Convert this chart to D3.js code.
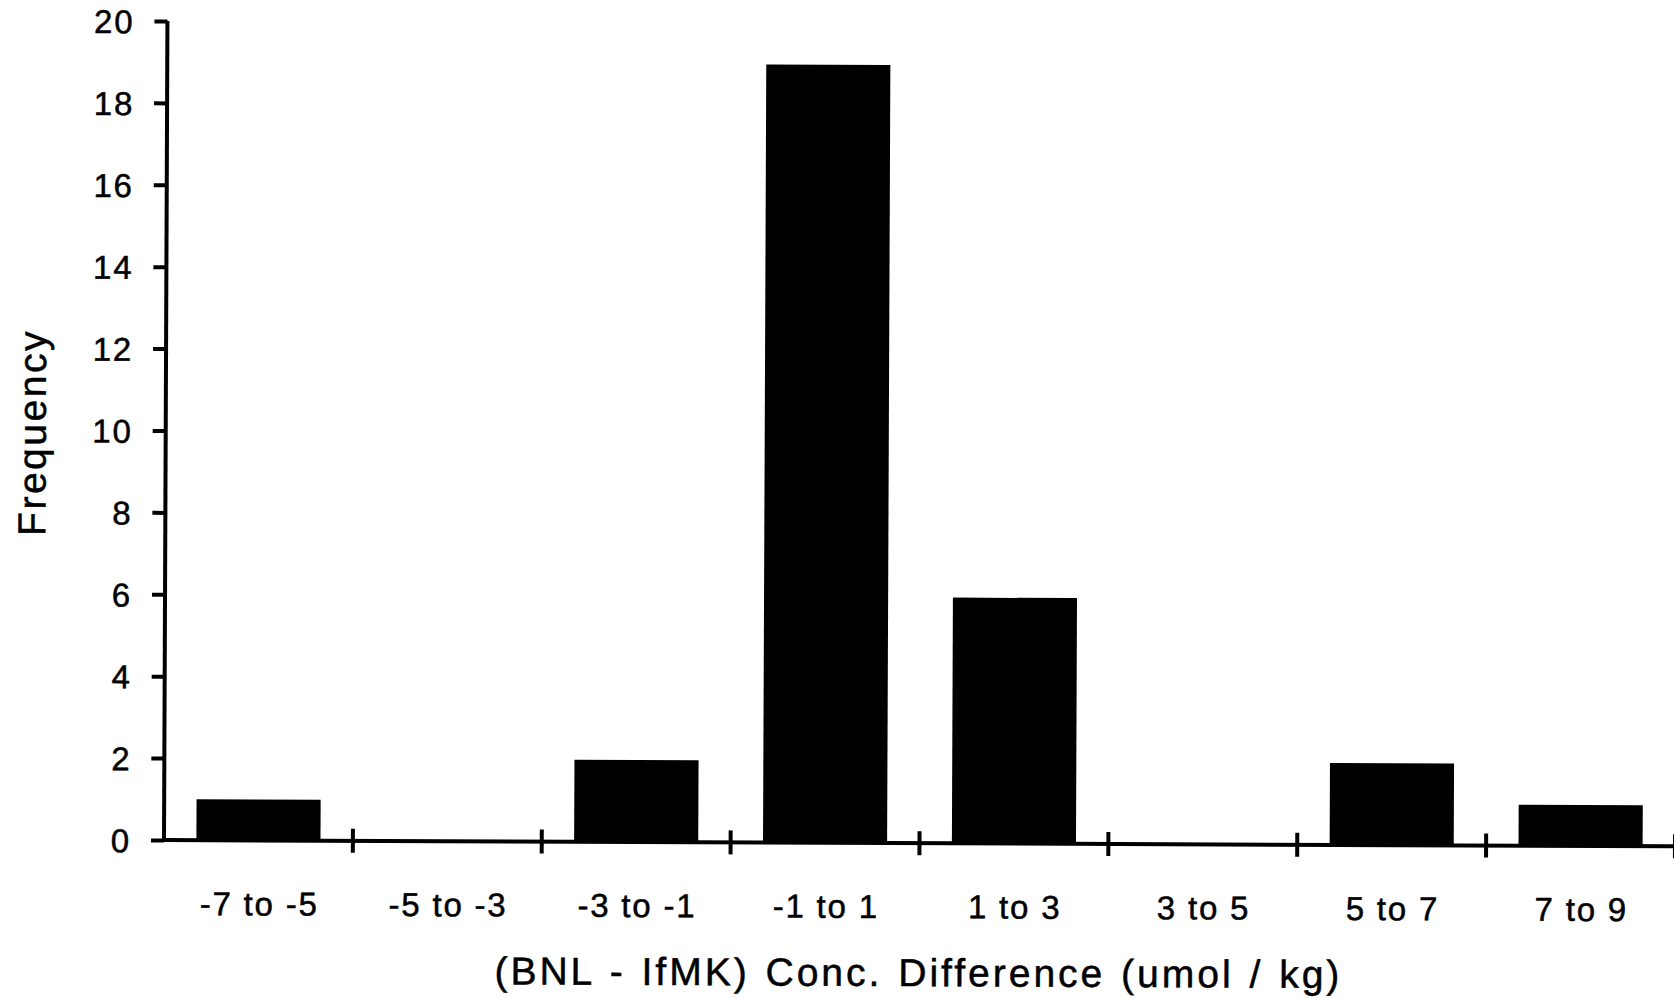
<!DOCTYPE html>
<html>
<head>
<meta charset="utf-8">
<script src="https://cdn.jsdelivr.net/npm/d3@7"></script>
<style>
  body { margin: 0; background: #fff; }
  svg { display: block; }
  text { font-family: "Liberation Sans", Arial, Helvetica, sans-serif; fill: #000; stroke: #000; stroke-width: 0.5px; }
  .tick-label { font-size: 33px; letter-spacing: 1.8px; }
  .label { font-size: 39px; letter-spacing: 3px; word-spacing: 2px; }
</style>
</head>
<body>
<svg width="1674" height="998"></svg>
<script>
// histogram of concentration differences
const categories = ['-7 to -5', '-5 to -3', '-3 to -1', '-1 to 1', '1 to 3', '3 to 5', '5 to 7', '7 to 9'];
const frequency = [1, 0, 2, 19, 6, 0, 2, 1];
const yTicks = [0, 2, 4, 6, 8, 10, 12, 14, 16, 18, 20];

const svg = d3.select('svg');

const plotLeft = 164;
const plotRight = 1675;
const plotTop = 21;
const plotBottom = 840;

// the scanned page is slightly rotated
const chart = svg.append('g')
  .attr('transform', `rotate(0.24, ${plotLeft}, ${plotBottom})`);

const xScale = d3.scaleBand()
  .range([plotLeft, plotRight])
  .domain(categories)
  .paddingInner(0.343)
  .paddingOuter(0.1715);

const yScale = d3.scaleLinear()
  .range([plotBottom, plotTop])
  .domain([0, 20]);

const step = xScale.step();

// bars
chart.selectAll('.bar')
  .data(categories)
  .enter()
  .append('rect')
  .attr('class', 'bar')
  .attr('x', (c) => xScale(c))
  .attr('y', (c, i) => yScale(frequency[i]))
  .attr('width', xScale.bandwidth())
  .attr('height', (c, i) => yScale(0) - yScale(frequency[i]))
  .attr('fill', '#000');

// y axis
const yAxis = chart.append('g')
  .attr('transform', `translate(${plotLeft}, 0)`)
  .call(d3.axisLeft(yScale)
    .tickValues(yTicks)
    .tickSize(13)
    .tickPadding(20)
    .tickFormat(d3.format('d')));

yAxis.attr('font-family', null).attr('font-size', null);
yAxis.select('.domain')
  .attr('d', `M0,${plotTop}V${plotBottom}`)
  .attr('stroke', '#000')
  .attr('stroke-width', 4);
yAxis.selectAll('.tick line')
  .attr('stroke', '#000')
  .attr('stroke-width', 4);
yAxis.selectAll('.tick text')
  .attr('class', 'tick-label')
  .attr('dy', '0.36em');

// x axis line
chart.append('line')
  .attr('x1', plotLeft)
  .attr('x2', plotRight)
  .attr('y1', plotBottom)
  .attr('y2', plotBottom)
  .attr('stroke', '#000')
  .attr('stroke-width', 4);

// x ticks at bin edges, crossing the axis
const edgeX = (c) => xScale(c) - xScale.paddingOuter() * step + step;

chart.selectAll('.xtick')
  .data(categories)
  .enter()
  .append('line')
  .attr('class', 'xtick')
  .attr('x1', edgeX)
  .attr('x2', edgeX)
  .attr('y1', plotBottom - 12)
  .attr('y2', plotBottom + 12)
  .attr('stroke', '#000')
  .attr('stroke-width', 4);

// bin labels
chart.selectAll('.xlabel')
  .data(categories)
  .enter()
  .append('text')
  .attr('class', 'tick-label')
  .attr('x', (c) => xScale(c) + xScale.bandwidth() / 2 + 1)
  .attr('y', plotBottom + 75)
  .attr('text-anchor', 'middle')
  .text((c) => c);

// axis titles
chart.append('text')
  .attr('class', 'label')
  .attr('x', 919)
  .attr('y', 983)
  .attr('text-anchor', 'middle')
  .text('(BNL - IfMK) Conc. Difference (umol / kg)');

chart.append('text')
  .attr('class', 'label')
  .attr('transform', 'translate(44, 433) rotate(-90)')
  .attr('text-anchor', 'middle')
  .style('letter-spacing', '2.5px')
  .text('Frequency');
</script>
</body>
</html>
